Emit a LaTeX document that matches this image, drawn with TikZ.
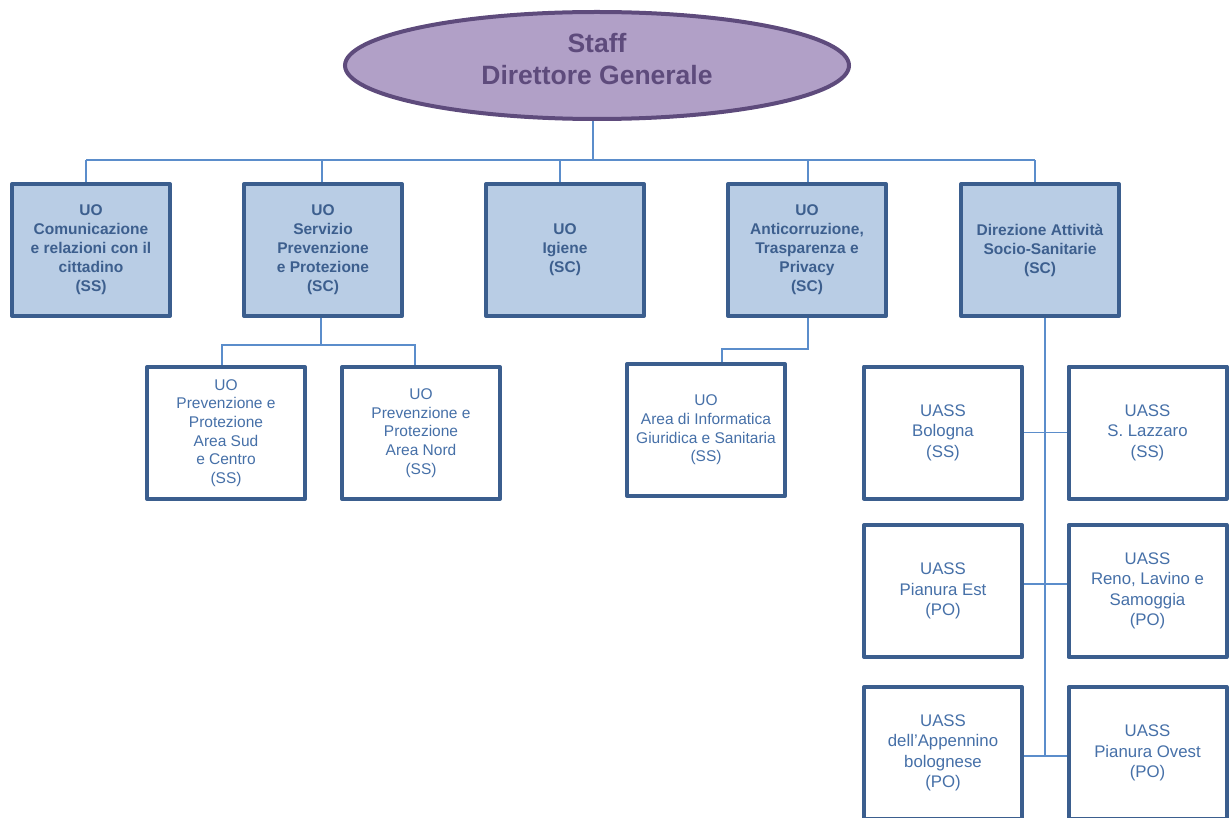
\documentclass[tikz,border=0pt]{standalone}
\usepackage{fontspec}
\setmainfont{Liberation Sans}
\usetikzlibrary{shapes.geometric,calc}
\definecolor{topfill}{HTML}{B1A0C7}
\definecolor{topdraw}{HTML}{5E4B7C}
\definecolor{boxfill}{HTML}{B9CDE5}
\definecolor{boxdraw}{HTML}{3B5E8E}
\definecolor{boldtext}{HTML}{3D5F8E}
\definecolor{lowtext}{HTML}{4670A8}
\definecolor{connc}{HTML}{5B8DCB}
\begin{document}
\begin{tikzpicture}[x=1pt,y=-1pt,
  conn/.style={draw=connc, line width=1.3pt},
  topell/.style={ellipse, draw=topdraw, fill=topfill, line width=4pt, minimum width=504pt, minimum height=107pt, inner sep=0pt},
  toptext/.style={inner sep=0pt, align=center, text=topdraw, font=\fontsize{26.5}{32}\selectfont\bfseries},
  topbox/.style={rectangle, draw=boxdraw, fill=boxfill, line width=4pt, line join=round, minimum width=158pt, minimum height=132pt, inner sep=0pt, align=center, text=boldtext, font=\fontsize{15.5}{19}\selectfont\bfseries},
  lowbox/.style={rectangle, draw=boxdraw, fill=white, line width=4pt, line join=round, minimum width=158pt, minimum height=132pt, inner sep=0pt, align=center, text=lowtext, font=\fontsize{15.5}{18.7}\selectfont},
  uassbox/.style={lowbox, font=\fontsize{16.8}{20.5}\selectfont}]
\useasboundingbox (0,0) rectangle (1230,818);
\clip (0,0) rectangle (1230,818);

% top
\node[topell] (top) at (597,65.5) {};
\node[toptext] (toptxt) at (597,59) {Staff\\Direttore Generale};

% first row
\node[topbox] (B1) at (91,250) {UO\\Comunicazione\\e relazioni con il\\cittadino\\(SS)};
\node[topbox] (B2) at (323,250) {UO\\Servizio\\Prevenzione\\e Protezione\\(SC)};
\node[topbox] (B3) at (565,250) {UO\\Igiene\\(SC)};
\node[topbox] (B4) at (807,250) {UO\\Anticorruzione,\\Trasparenza e\\Privacy\\(SC)};
\node[topbox] (B5) at (1040,250) {Direzione Attività\\Socio-Sanitarie\\(SC)};

% second level
\node[lowbox] (C1) at (226,433) {UO\\Prevenzione e\\Protezione\\Area Sud\\e Centro\\(SS)};
\node[lowbox] (C2) at (421,433) {UO\\Prevenzione e\\Protezione\\Area Nord\\(SS)};
\node[lowbox] (D1) at (706,430) {UO\\Area di Informatica\\Giuridica e Sanitaria\\(SS)};

\node[uassbox] (E1) at (943,432.5) {UASS\\Bologna\\(SS)};
\node[uassbox] (E2) at (1147.5,432.5) {UASS\\S. Lazzaro\\(SS)};
\node[uassbox] (E3) at (943,591) {UASS\\Pianura Est\\(PO)};
\node[uassbox] (E4) at (1147.5,591) {UASS\\Reno, Lavino e\\Samoggia\\(PO)};
\node[uassbox] (E5) at (943,753) {UASS\\dell’Appennino\\bolognese\\(PO)};
\node[uassbox] (E6) at (1147.5,753) {UASS\\Pianura Ovest\\(PO)};

% connectors: top bus
\coordinate (busL) at (86,160);
\coordinate (busR) at (1035,160);
\draw[conn] (busL) -- (busR);
\draw[conn] ([xshift=-4pt]top.south) -- ([xshift=-4pt]top.south |- busL);
\draw[conn] ([xshift=-5pt]B1.north) -- ([xshift=-5pt]B1.north |- busL);
\draw[conn] ([xshift=-1pt]B2.north) -- ([xshift=-1pt]B2.north |- busL);
\draw[conn] ([xshift=-5pt]B3.north) -- ([xshift=-5pt]B3.north |- busL);
\draw[conn] ([xshift=1pt]B4.north) -- ([xshift=1pt]B4.north |- busL);
\draw[conn] ([xshift=-5pt]B5.north) -- ([xshift=-5pt]B5.north |- busL);

% under B2
\coordinate (s2) at (0,345);
\draw[conn] ([xshift=-2pt]B2.south) -- ([xshift=-2pt]B2.south |- s2);
\draw[conn] ([xshift=-4pt]C1.north) |- ([xshift=-6pt]C2.north |- s2) -- ([xshift=-6pt]C2.north);

% under B4
\draw[conn] ([xshift=1pt]B4.south) -- ++(0,31) -| ([xshift=16pt]D1.north);

% under B5
\coordinate (sb) at (1045,756);
\draw[conn] (B5.south -| sb) -- (sb);
\draw[conn] (E1.east) -- (E2.west);
\draw[conn] ([yshift=7pt]E3.east) -- ([yshift=7pt]E4.west);
\draw[conn] ([yshift=-3pt]E5.east) -- ([yshift=-3pt]E6.west);
\end{tikzpicture}
\end{document}
